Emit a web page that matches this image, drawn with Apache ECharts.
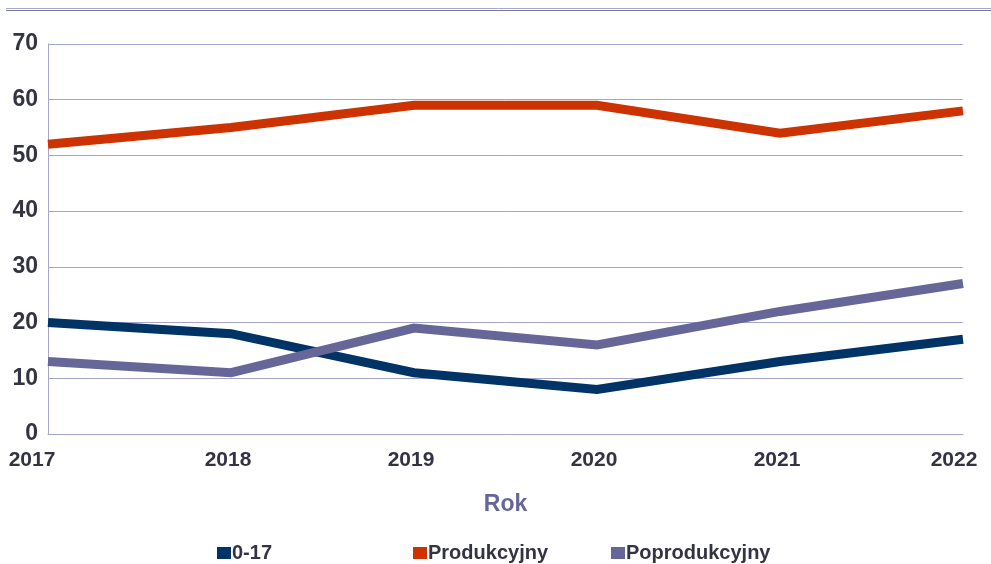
<!DOCTYPE html>
<html>
<head>
<meta charset="utf-8">
<script src="https://cdn.jsdelivr.net/npm/echarts@6/dist/echarts.min.js"></script>
<style>
html,body{margin:0;padding:0;background:#fff;}
#c{width:991px;height:564px;}
</style>
</head>
<body>
<div id="c"></div>
<script>
var categories = ['2017', '2018', '2019', '2020', '2021', '2022'];
var seriesNames = ['0-17', 'Produkcyjny', 'Poprodukcyjny'];
var values017 = [20, 18, 11, 8, 13, 17];
var valuesProd = [52, 55, 59, 59, 54, 58];
var valuesPoprod = [13, 11, 19, 16, 22, 27];
var yTicks = [0, 10, 20, 30, 40, 50, 60, 70];
var colors = ['#003366', '#cc3300', '#666699'];

var FONT = "'Liberation Sans', Arial, sans-serif";
var chart = echarts.init(document.getElementById('c'), null, {renderer: 'canvas'});
var labelShift = [32, 6, 6, 6, 6, 18];
function legendAt(name, left) {
  return {
    data: [name], left: left, top: 538, icon: 'rect', itemWidth: 14, itemHeight: 12,
    itemGap: 0, selectedMode: false,
    textStyle: {fontFamily: FONT, fontWeight: 'bold', fontSize: 20, color: '#333344', padding: [0, 0, 0, -4]}
  };
}
chart.setOption({
  animation: false,
  backgroundColor: '#ffffff',
  color: colors,
  graphic: [
    {type: 'line', shape: {x1: 6, y1: 8.5, x2: 991, y2: 8.5}, style: {stroke: '#a8a8c8', lineWidth: 1}},
    {type: 'line', shape: {x1: 6, y1: 10.5, x2: 991, y2: 10.5}, style: {stroke: '#7878a0', lineWidth: 1.2}}
  ],
  grid: {left: 48, right: 28, top: 44, bottom: 130, containLabel: false},
  legend: [legendAt(seriesNames[0], 212), legendAt(seriesNames[1], 408), legendAt(seriesNames[2], 606)],
  xAxis: {
    type: 'category', data: categories, boundaryGap: false,
    axisLine: {show: true, lineStyle: {color: '#a6a6cc', width: 1}},
    axisTick: {show: false},
    axisLabel: {
      margin: 16, fontFamily: FONT, fontWeight: 'bold', fontSize: 21, color: '#333344',
      formatter: function (v, i) { return '{s' + i + '|' + v + '}'; },
      rich: {
        s0: {padding: [0, labelShift[0], 0, 0]}, s1: {padding: [0, labelShift[1], 0, 0]},
        s2: {padding: [0, labelShift[2], 0, 0]}, s3: {padding: [0, labelShift[3], 0, 0]},
        s4: {padding: [0, labelShift[4], 0, 0]}, s5: {padding: [0, labelShift[5], 0, 0]}
      }
    },
    splitLine: {show: false},
    name: 'Rok', nameLocation: 'middle', nameGap: 59,
    nameTextStyle: {fontFamily: FONT, fontWeight: 'bold', fontSize: 23, color: '#666699'}
  },
  yAxis: {
    type: 'value', min: yTicks[0], max: yTicks[yTicks.length - 1], interval: 10,
    axisLine: {show: true, lineStyle: {color: '#a6a6cc', width: 1}},
    axisTick: {show: false},
    axisLabel: {margin: 10, fontFamily: FONT, fontWeight: 'bold', fontSize: 23, color: '#333344'},
    splitLine: {show: true, lineStyle: {color: '#a6a6cc', width: 1}}
  },
  series: [
    {name: seriesNames[0], type: 'line', data: values017, symbol: 'none', lineStyle: {width: 9, color: colors[0], join: 'miter', cap: 'butt'}, itemStyle: {color: colors[0]}},
    {name: seriesNames[1], type: 'line', data: valuesProd, symbol: 'none', lineStyle: {width: 9, color: colors[1], join: 'miter', cap: 'butt'}, itemStyle: {color: colors[1]}},
    {name: seriesNames[2], type: 'line', data: valuesPoprod, symbol: 'none', lineStyle: {width: 9, color: colors[2], join: 'miter', cap: 'butt'}, itemStyle: {color: colors[2]}}
  ]
});
</script>
</body>
</html>
